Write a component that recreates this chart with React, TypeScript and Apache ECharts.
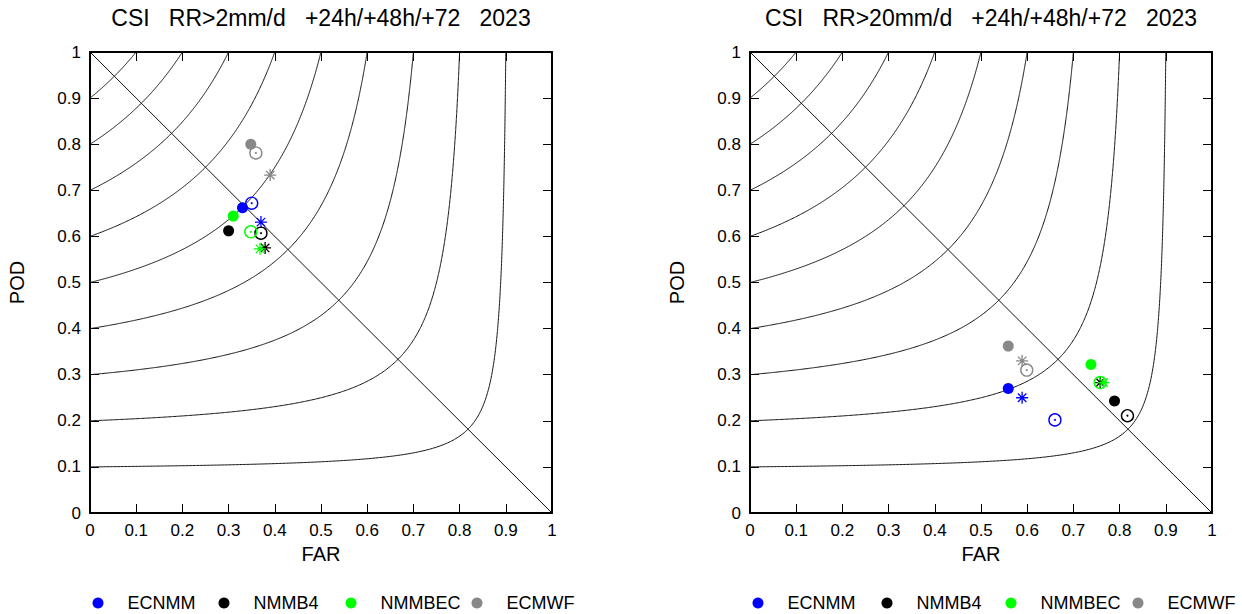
import React, { useEffect, useRef } from 'react';
import * as echarts from 'echarts';

// ---------- data ----------
const MODELS = ['ECNMM', 'NMMB4', 'NMMBEC', 'ECMWF'];
const MODEL_COLORS = ['#0000ff', '#000000', '#00ff00', '#888888'];
const CSI_LEVELS = [0.1, 0.2, 0.3, 0.4, 0.5, 0.6, 0.7, 0.8, 0.9];
const TITLES = [
  'CSI   RR>2mm/d   +24h/+48h/+72   2023',
  'CSI   RR>20mm/d   +24h/+48h/+72   2023',
];

// [FAR, POD] per model, in MODELS order
const RR2_24H = [[0.33, 0.662], [0.30, 0.612], [0.31, 0.644], [0.348, 0.80]];
const RR2_48H = [[0.35, 0.672], [0.37, 0.607], [0.348, 0.61], [0.359, 0.781]];
const RR2_72H = [[0.37, 0.631], [0.379, 0.575], [0.368, 0.573], [0.39, 0.733]];

const RR20_24H = [[0.559, 0.27], [0.789, 0.243], [0.738, 0.322], [0.559, 0.362]];
const RR20_48H = [[0.66, 0.202], [0.817, 0.211], [0.758, 0.283], [0.599, 0.31]];
const RR20_72H = [[0.589, 0.25], [0.758, 0.283], [0.765, 0.283], [0.589, 0.33]];

const PANELS = [
  { d24: RR2_24H, d48: RR2_48H, d72: RR2_72H },
  { d24: RR20_24H, d48: RR20_48H, d72: RR20_72H },
];

// legend marker centres (px) for each panel
const LEGEND_X = [
  [98, 224, 351, 477],
  [758, 887, 1011, 1138],
];

const FONT = '"Liberation Sans", Arial, sans-serif';
const STAR = 'path://M6,0L6,12M0,6L12,6M1.76,1.76L10.24,10.24M1.76,10.24L10.24,1.76';

// CSI isoline in (FAR, POD) space: CSI = 1 / (1/POD + 1/(1-FAR) - 1)
function isoline(c: number): number[][] {
  const pts: number[][] = [];
  const N = 300;
  for (let i = 0; i <= N; i++) {
    const f = ((1 - c) * i) / N;
    const d = 1 / c + 1 - 1 / (1 - f);
    if (d <= 0) continue;
    const p = 1 / d;
    if (p <= 1) pts.push([f, p]);
  }
  for (let j = 0; j <= N; j++) {
    const p = c + ((1 - c) * j) / N;
    const f = 1 - 1 / (1 / c + 1 - 1 / p);
    pts.push([f, p]);
  }
  pts.sort((a, b) => a[0] - b[0] || a[1] - b[1]);
  return pts;
}

function buildOption() {
  const grids = [
    { left: 90, top: 52, width: 462, height: 461 },
    { left: 750, top: 52, width: 462, height: 461 },
  ];
  const xAxes: any[] = [];
  const yAxes: any[] = [];
  const series: any[] = [];
  const axisBase = (gridIndex: number, position: string, showLabel: boolean) => ({
    type: 'value',
    gridIndex,
    position,
    min: 0,
    max: 1,
    interval: 0.1,
    axisLine: { show: true, onZero: false, lineStyle: { color: '#000', width: 2 } },
    axisTick: { show: true, inside: true, length: 9, lineStyle: { color: '#000', width: 1 } },
    axisLabel: { show: showLabel, color: '#000', fontSize: 17, fontFamily: FONT, margin: 9 },
    splitLine: { show: false },
  });
  PANELS.forEach((panel, p) => {
    xAxes.push({
      ...axisBase(p, 'bottom', true),
      name: 'FAR',
      nameLocation: 'middle',
      nameGap: 30,
      nameTextStyle: { color: '#000', fontSize: 20, fontFamily: FONT },
    });
    xAxes.push(axisBase(p, 'top', false));
    yAxes.push({
      ...axisBase(p, 'left', true),
      name: 'POD',
      nameLocation: 'middle',
      nameGap: 63,
      nameTextStyle: { color: '#000', fontSize: 20, fontFamily: FONT },
    });
    yAxes.push(axisBase(p, 'right', false));
    const xi = p * 2;
    const yi = p * 2;
    CSI_LEVELS.forEach((c) => {
      series.push({
        type: 'line',
        name: 'CSI ' + c,
        xAxisIndex: xi,
        yAxisIndex: yi,
        data: isoline(c),
        symbol: 'none',
        showSymbol: false,
        lineStyle: { color: '#111', width: 1 },
        silent: true,
        z: 1,
      });
    });
    series.push({
      type: 'line',
      name: 'bias 1',
      xAxisIndex: xi,
      yAxisIndex: yi,
      data: [[0, 1], [1, 0]],
      symbol: 'none',
      showSymbol: false,
      lineStyle: { color: '#111', width: 1 },
      silent: true,
      z: 1,
    });
    MODELS.forEach((m, k) => {
      const col = MODEL_COLORS[k];
      series.push({
        type: 'scatter',
        name: m + ' +48h',
        xAxisIndex: xi,
        yAxisIndex: yi,
        data: [panel.d48[k]],
        symbol: 'circle',
        symbolSize: 12,
        itemStyle: { color: 'rgba(255,255,255,0)', borderColor: col, borderWidth: 1.4, opacity: 1 },
        silent: true,
        z: 3,
      });
      series.push({
        type: 'scatter',
        name: m + ' +48h centre',
        xAxisIndex: xi,
        yAxisIndex: yi,
        data: [panel.d48[k]],
        symbol: 'circle',
        symbolSize: 2,
        itemStyle: { color: col, opacity: 1 },
        silent: true,
        z: 3,
      });
      series.push({
        type: 'scatter',
        name: m + ' +72',
        xAxisIndex: xi,
        yAxisIndex: yi,
        data: [panel.d72[k]],
        symbol: STAR,
        symbolSize: 12,
        itemStyle: { color: 'rgba(255,255,255,0)', borderColor: col, borderWidth: 1.3, opacity: 1 },
        silent: true,
        z: 3,
      });
      series.push({
        type: 'scatter',
        name: m,
        xAxisIndex: xi,
        yAxisIndex: yi,
        data: [panel.d24[k]],
        symbol: 'circle',
        symbolSize: 11,
        itemStyle: { color: col, opacity: 1 },
        silent: true,
        z: 4,
      });
    });
  });

  const legends: any[] = [];
  LEGEND_X.forEach((row) => {
    row.forEach((cx, k) => {
      legends.push({
        data: [MODELS[k]],
        left: cx - 5.5,
        top: 594,
        orient: 'horizontal',
        icon: 'circle',
        itemWidth: 11,
        itemHeight: 11,
        selectedMode: false,
        padding: 0,
        textStyle: { color: '#000', fontSize: 18, fontFamily: FONT, padding: [0, 0, 0, 19] },
      });
    });
  });

  return {
    animation: false,
    backgroundColor: '#fff',
    grid: grids,
    xAxis: xAxes,
    yAxis: yAxes,
    series,
    legend: legends,
    graphic: TITLES.map((t, i) => ({
      type: 'text',
      x: i === 0 ? 321 : 981,
      y: 18,
      silent: true,
      style: {
        text: t,
        fill: '#000',
        font: '23px ' + FONT,
        align: 'center',
        verticalAlign: 'middle',
      },
    })),
  };
}

export default function App() {
  const ref = useRef<HTMLDivElement>(null);
  useEffect(() => {
    if (!ref.current) return;
    const chart = echarts.init(ref.current, undefined, { renderer: 'svg' });
    chart.setOption(buildOption() as any);
    return () => chart.dispose();
  }, []);
  return (
    <div
      ref={ref}
      style={{ position: 'fixed', left: 0, top: 0, width: 1242, height: 614, background: '#fff' }}
    />
  );
}
